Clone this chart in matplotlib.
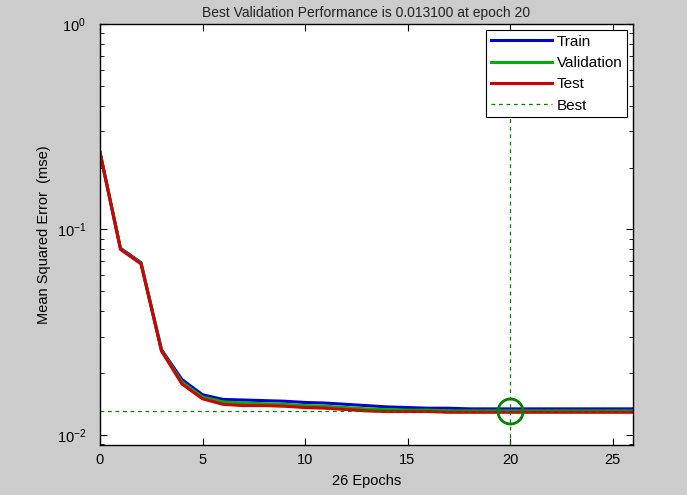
import matplotlib
matplotlib.use("Agg")
import matplotlib.pyplot as plt
from matplotlib.ticker import LogLocator, FixedLocator

plt.rcParams["font.family"] = ["Liberation Sans", "DejaVu Sans"]
plt.rcParams["mathtext.default"] = "regular"
plt.rcParams["axes.unicode_minus"] = False

epochs = list(range(27))
train = [0.238, 0.081, 0.069, 0.026, 0.0186, 0.0157, 0.0149, 0.0148, 0.0147, 0.0146,
         0.0144, 0.0143, 0.0141, 0.0139, 0.0137, 0.0136, 0.0135, 0.0135, 0.0134, 0.0134,
         0.0134, 0.0134, 0.0134, 0.0134, 0.0134, 0.0134, 0.0134]
val = [0.237, 0.0805, 0.0685, 0.0258, 0.0181, 0.0153, 0.0145, 0.0143, 0.0142, 0.0141,
       0.0139, 0.0138, 0.0136, 0.0134, 0.0133, 0.0132, 0.0132, 0.0131, 0.0131, 0.0131,
       0.0131, 0.0131, 0.0131, 0.0131, 0.0131, 0.0131, 0.0131]
test = [0.236, 0.080, 0.068, 0.0256, 0.0177, 0.0150, 0.0141, 0.0139, 0.0139, 0.0138,
        0.0136, 0.0135, 0.0133, 0.0131, 0.0130, 0.0130, 0.0130, 0.0129, 0.0129, 0.0129,
        0.0129, 0.0129, 0.0129, 0.0129, 0.0129, 0.0129, 0.0129]
best_epoch = 20
best_val = 0.0131
n_epochs = 26

fig = plt.figure(figsize=(6.87, 4.95), dpi=100, facecolor="#cccccc")
ax = fig.add_axes([100 / 687, 1 - 445 / 495, 533 / 687, 421 / 495])
ax.set_facecolor("white")

ax.plot(epochs, train, color="#0000d0", lw=2.2, label="Train")
ax.plot(epochs, val, color="#00b000", lw=2.2, label="Validation")
ax.plot(epochs, test, color="#d00000", lw=2.2, label="Test")
ax.axvline(best_epoch, color="#008000", lw=0.9, ls=(0, (3, 3)), label="Best")
ax.axhline(best_val, color="#008000", lw=0.9, ls=(0, (3, 3)))
ax.plot([best_epoch], [best_val], "o", mfc="none", mec="#008000", mew=2, ms=18)

ax.set_yscale("log")
ax.set_xlim(0, n_epochs)
ax.set_ylim(10 ** -2.0487, 1)
ax.xaxis.set_major_locator(FixedLocator([0, 5, 10, 15, 20, 25]))
ax.yaxis.set_major_locator(LogLocator(base=10, numticks=5))
ax.yaxis.set_minor_locator(LogLocator(base=10, subs=range(2, 10), numticks=20))
ax.yaxis.set_minor_formatter(plt.NullFormatter())
ax.tick_params(which="both", direction="in", top=True, right=True, labelsize=10.5,
               color="black")
ax.tick_params(which="major", length=5)
ax.tick_params(axis="x", which="major", pad=6)
ax.tick_params(axis="y", which="major", pad=10)
ax.tick_params(which="minor", length=3)
for s in ax.spines.values():
    s.set_linewidth(1)

ax.set_xlabel(f"{n_epochs} Epochs", fontsize=10.5, labelpad=5)
ax.set_ylabel("Mean Squared Error  (mse)", fontsize=10.5, labelpad=4)

# title sits in the thin strip above the axes
fig.text(0.5 * (100 + 633) / 687, 1 - 17 / 495,
         f"Best Validation Performance is {best_val:.6f} at epoch {best_epoch}",
         ha="center", va="baseline", fontsize=10, color="#222222")

leg = ax.legend(loc="upper right", fontsize=11, fancybox=False, edgecolor="black",
                framealpha=1, handlelength=4.0, borderaxespad=0.4,
                labelspacing=0.48, handletextpad=0.3, borderpad=0.3)
leg.get_frame().set_linewidth(0.8)

fig.savefig("out.png", dpi=100, facecolor=fig.get_facecolor())
